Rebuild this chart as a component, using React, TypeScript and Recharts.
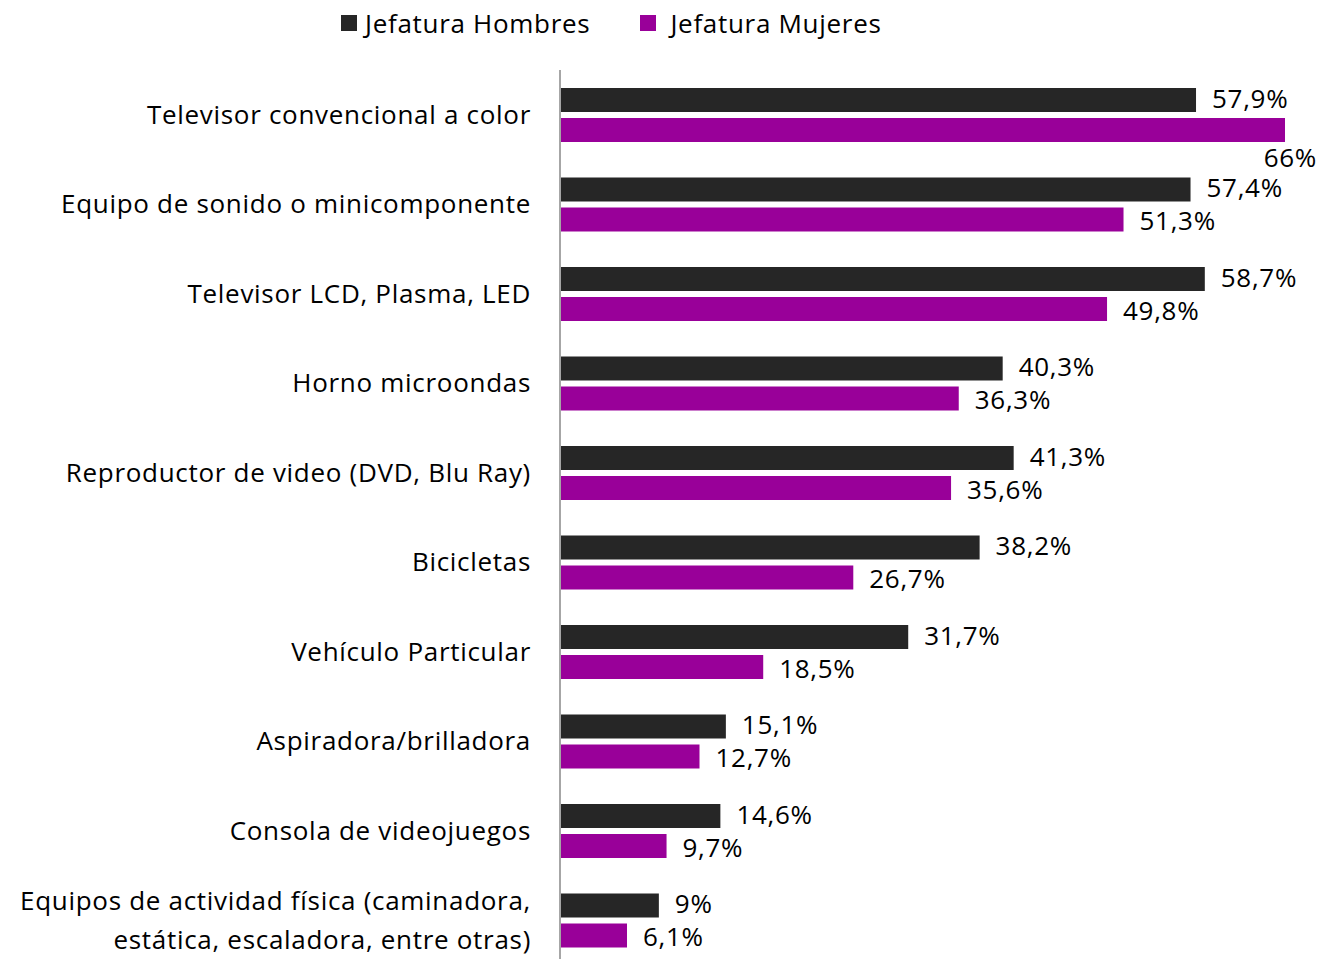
import { BarChart, Bar, XAxis, YAxis, LabelList } from 'recharts';

const categories = [
  'Televisor convencional a color',
  'Equipo de sonido o minicomponente',
  'Televisor LCD, Plasma, LED',
  'Horno microondas',
  'Reproductor de video (DVD, Blu Ray)',
  'Bicicletas',
  'Vehículo Particular',
  'Aspiradora/brilladora',
  'Consola de videojuegos',
  'Equipos de actividad física (caminadora,\nestática, escaladora, entre otras)',
];

const hombres = [57.9, 57.4, 58.7, 40.3, 41.3, 38.2, 31.7, 15.1, 14.6, 9];
const mujeres = [66, 51.3, 49.8, 36.3, 35.6, 26.7, 18.5, 12.7, 9.7, 6.1];

const seriesNames = ['Jefatura Hombres', 'Jefatura Mujeres'];
const colors = ['#262626', '#990099'];

const data = categories.map((c, i) => ({ name: c, hombres: hombres[i], mujeres: mujeres[i] }));

const FONT = '"Open Sans", sans-serif';
const FS = 26;
const LS = 0.7;
const fmt = (v: number) => `${String(v).replace('.', ',')}%`;

const CategoryTick = (props: any) => {
  const { x, y, payload } = props;
  const lines = String(payload.value).split('\n');
  const lh = 39;
  const start = -((lines.length - 1) * lh) / 2;
  const tx = x + 7;
  return (
    <text x={tx} y={y} textAnchor="end" fontFamily={FONT} fontSize={FS} letterSpacing={LS} fill="#000">
      {lines.map((l, i) => (
        <tspan key={i} x={tx} dy={i === 0 ? start + 9 : lh}>{l}</tspan>
      ))}
    </text>
  );
};

// value label to the right of the bar; drop below the bar end if it would run off the chart
const makeLabel = (shift: number) => (props: any) => {
  const { x, y, width, height, value } = props;
  const text = fmt(value);
  const end = x + width;
  if (end + 95 > 1324) {
    return (
      <text x={end + 32} y={y + height + 25} textAnchor="end" fontFamily={FONT} fontSize={FS} letterSpacing={LS} fill="#000">
        {text}
      </text>
    );
  }
  return (
    <text x={end + 16} y={y + height / 2 + 9 + shift} fontFamily={FONT} fontSize={FS} letterSpacing={LS} fill="#000">
      {text}
    </text>
  );
};

const TopLabel = makeLabel(-1.5);
const BottomLabel = makeLabel(1.5);

export default function App() {
  return (
    <div style={{ position: 'absolute', left: 0, top: 0, width: 1324, height: 959, overflow: 'hidden', background: '#fff' }}>
      <div style={{ position: 'absolute', top: 5, left: 341, display: 'flex', alignItems: 'center', fontFamily: FONT, fontSize: FS, letterSpacing: LS, color: '#000', zIndex: 2 }}>
        {seriesNames.map((n, i) => (
          <div key={n} style={{ display: 'flex', alignItems: 'center', marginRight: 50 }}>
            <span style={{ width: 16, height: 16, background: colors[i], display: 'inline-block', marginRight: i === 0 ? 8 : 14 }} />
            <span>{n}</span>
          </div>
        ))}
      </div>
      <BarChart
        width={1324}
        height={965}
        data={data}
        layout="vertical"
        margin={{ top: 70, right: 39, bottom: 0, left: 0 }}
        barSize={24}
        barGap={6}
      >
        <XAxis type="number" domain={[0, 66]} hide />
        <YAxis
          type="category"
          dataKey="name"
          width={560}
          tickLine={false}
          axisLine={{ stroke: '#a6a6a6', strokeWidth: 2 }}
          tick={<CategoryTick />}
          tickMargin={30}
          interval={0}
        />
        <Bar dataKey="hombres" fill={colors[0]} isAnimationActive={false}>
          <LabelList dataKey="hombres" content={<TopLabel />} />
        </Bar>
        <Bar dataKey="mujeres" fill={colors[1]} isAnimationActive={false}>
          <LabelList dataKey="mujeres" content={<BottomLabel />} />
        </Bar>
      </BarChart>
    </div>
  );
}
